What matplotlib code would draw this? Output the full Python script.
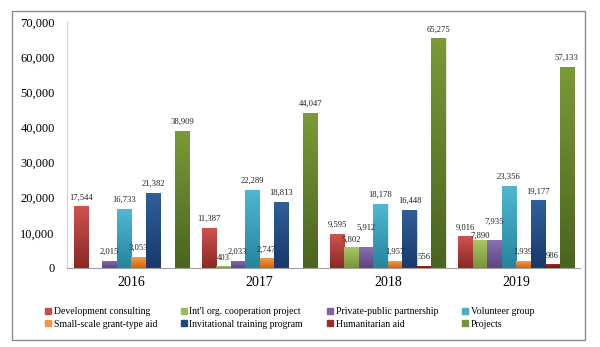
import matplotlib.pyplot as plt
import matplotlib.colors as mcolors
from matplotlib.patches import Rectangle
import numpy as np

plt.rcParams['font.family'] = ['Liberation Serif', 'DejaVu Serif']

years = ['2016', '2017', '2018', '2019']
series_names = ['Development consulting', "Int'l org. cooperation project",
                'Private-public partnership', 'Volunteer group',
                'Small-scale grant-type aid', 'Invitational training program',
                'Humanitarian aid', 'Projects']

dev_consulting = [17544, 11387, 9595, 9016]
intl_org = [np.nan, 403, 5802, 7890]
private_public = [2015, 2033, 5912, 7935]
volunteer = [16733, 22289, 18178, 23356]
small_grant = [3053, 2747, 1957, 1939]
invitational = [21382, 18813, 16448, 19177]
humanitarian = [np.nan, np.nan, 556, 986]
projects = [38909, 44047, 65275, 57133]

values = [dev_consulting, intl_org, private_public, volunteer,
          small_grant, invitational, humanitarian, projects]

# (top colour, bottom colour) for the vertical shading of each series
colors = [('#d0524f', '#8a2826'), ('#a8c864', '#77953a'), ('#8a70ae', '#5c4482'),
          ('#4fb8d2', '#26849e'), ('#f7993f', '#d0640f'), ('#2f5f9c', '#173a6a'),
          ('#a02a26', '#6a1512'), ('#7a9a36', '#4a6420')]
legend_colors = ['#c0504d', '#9bbb59', '#8064a2', '#4bacc6',
                 '#f79646', '#1f497d', '#9b2d2a', '#77933c']

# value labels that sit crowded together get nudged up/down (points)
label_shift = {(1, 2): 2.5, (2, 2): 11, (1, 3): 0.5, (2, 3): 10}

fig = plt.figure(figsize=(6, 3.47), dpi=100)
fig.patches.append(Rectangle((0.02, 0.02), 0.955, 0.948, transform=fig.transFigure,
                             fill=False, edgecolor='#8c8c8c', linewidth=1.0))
ax = fig.add_axes([0.112, 0.228, 0.855, 0.709])

x = np.arange(len(years))
n = len(values)
w = 0.113
grad = np.linspace(0, 1, 64).reshape(-1, 1)

for i, vals in enumerate(values):
    offs = x + (i - (n - 1) / 2) * w
    bars = ax.bar(offs, vals, width=w * 0.98, color=legend_colors[i], linewidth=0.4,
                  edgecolor='white', zorder=2)
    cmap = mcolors.LinearSegmentedColormap.from_list('g%d' % i, [colors[i][1], colors[i][0]])
    for j, (b, v) in enumerate(zip(bars, vals)):
        if np.isnan(v):
            continue
        x0, x1 = b.get_x(), b.get_x() + b.get_width()
        im = ax.imshow(grad, extent=(x0, x1, 0, v), origin='lower', aspect='auto',
                       cmap=cmap, zorder=2.5)
        im.set_clip_path(b)
        ax.annotate(f'{int(v):,}', (b.get_x() + b.get_width() / 2, v),
                    xytext=(0, label_shift.get((i, j), 3.5)), textcoords='offset points',
                    ha='center', va='bottom', fontsize=6.2, color='#222222', zorder=3)

ax.set_xlim(-0.5, 3.5)
ax.set_ylim(0, 70000)
ax.set_yticks(np.arange(0, 70001, 10000))
ax.set_yticklabels([f'{t:,}' for t in range(0, 70001, 10000)], fontsize=9)
ax.set_xticks(x)
ax.set_xticklabels(years, fontsize=10)
ax.tick_params(axis='x', length=0, pad=6, bottom=True, top=False,
               labelbottom=True, labeltop=False)
ax.tick_params(axis='y', length=0, pad=9)
for s in ['top', 'right']:
    ax.spines[s].set_visible(False)
ax.spines['left'].set_color('#d0d0d0')
ax.spines['bottom'].set_color('#a0a0a0')

# legend fills column by column, so interleave to read row by row
order = [0, 4, 1, 5, 2, 6, 3, 7]
handles = [Rectangle((0, 0), 1, 1, color=legend_colors[k]) for k in order]
labels = [series_names[k] for k in order]
fig.legend(handles, labels, loc='lower left', bbox_to_anchor=(0.06, 0.028),
           ncol=4, frameon=False, fontsize=7, handlelength=0.6, handleheight=0.6,
           handletextpad=0.3, columnspacing=2.45, labelspacing=0.35)

fig.savefig('out.png', dpi=100)
